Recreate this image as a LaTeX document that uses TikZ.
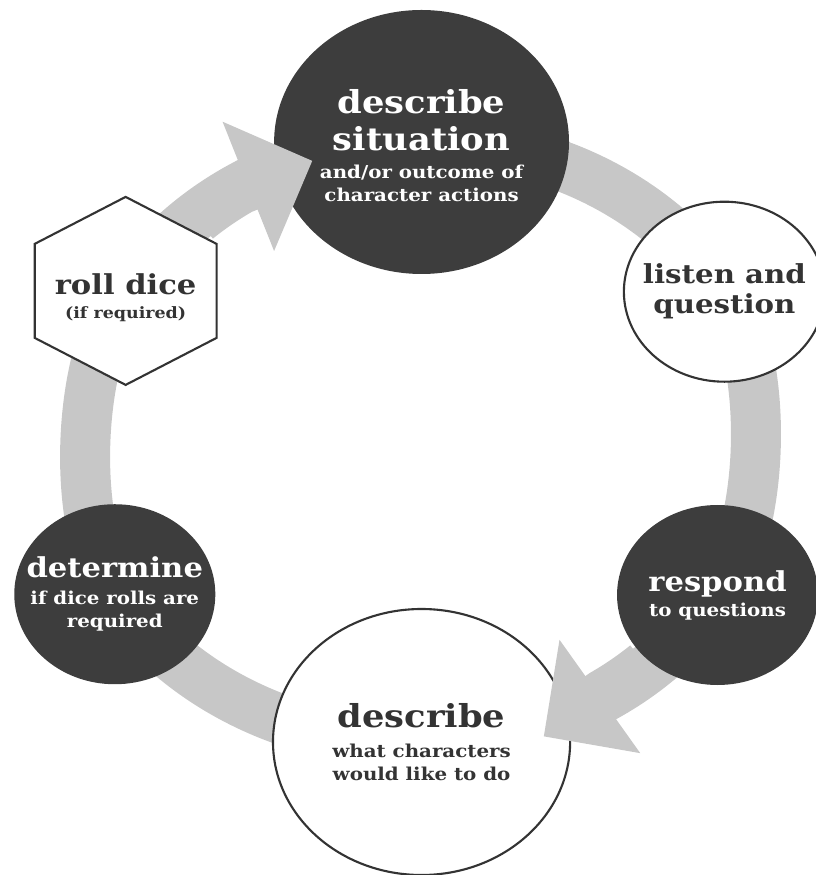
\documentclass[tikz,border=0pt]{standalone}
\usepackage{fontspec}
\setmainfont{DejaVu Serif}
\usetikzlibrary{shapes.geometric,arrows.meta,backgrounds}

\lineskiplimit=-\maxdimen
\newcommand{\headfont}{\fontsize{9}{6.5}\selectfont}
\newcommand{\midfont}{\fontsize{7.8}{6.5}\selectfont}
\newcommand{\tinyfont}{\fontsize{4.45}{6.5}\selectfont}

\tikzset{
  stage/.style={circle, inner sep=0pt, align=center, font=\bfseries\fontsize{5.05}{6.5}\selectfont},
  darkstage/.style={stage, fill=black!76, text=white},
  lightstage/.style={stage, draw=black!80, line width=0.6pt, fill=white, text=black!80},
  band/.style={line width=5mm, draw=black!22},
  bandtip/.style={band, -{Triangle[length=6.9mm, width=13.5mm]}, fill=black!22},
}

\begin{document}
\begin{tikzpicture}[xscale=1.117, every node/.append style={transform shape}]
  \useasboundingbox (-3.774,-4.33) rectangle (3.523,4.42);

  \node[darkstage, minimum size=2.64cm] (sit) at (90:3)
    {\mbox{}\\[2.6pt] \headfont describe\\[4pt] \headfont situation\\[1.5pt] and/or outcome of\\ character actions};
  \node[lightstage, minimum size=1.8cm] (listen) at (29:3.1)
    {\midfont\fontsize{7.45}{6.5}\selectfont listen and\\[2pt] \midfont\fontsize{7.45}{6.5}\selectfont question};
  \node[darkstage, minimum size=1.8cm] (respond) at (-30:3.06)
    {\midfont respond\\[0.6pt] to questions};
  \node[lightstage, minimum size=2.66cm] (bottom) at (-90:3)
    {\headfont describe\\[2pt] what characters\\ would like to do};
  \node[darkstage, minimum size=1.8cm] (determine) at (-151:3.14)
    {\midfont determine\\[1.2pt] if dice rolls are\\ required};
  \node[lightstage, regular polygon, regular polygon sides=6, shape border rotate=30,
        inner sep=-3mm, minimum size=1.88cm] (roll) at (150.3:3.05)
    {\mbox{}\\[3.4pt] \midfont roll dice\\[0.5pt] \tinyfont (if required)};

  \begin{scope}[on background layer]
    \foreach \from/\to/\loose in {roll/sit/0.91, sit/listen/0.91, listen/respond/0.7,
                                  respond/bottom/0.91, bottom/determine/0.91, determine/roll/0.7}
      \draw[band] (\from.center) to[bend left=30, looseness=\loose] (\to.center);
  \end{scope}

  \coordinate (toSit) at (132:3);
  \coordinate (toBottom) at (-48:3);
  \draw[bandtip] (toSit) arc[start angle=132, end angle=122.6, radius=3] -- ++(24:0.7);
  \draw[bandtip] (toBottom) arc[start angle=-48, end angle=-57.2, radius=3] -- ++(218.5:0.68);
\end{tikzpicture}
\end{document}
